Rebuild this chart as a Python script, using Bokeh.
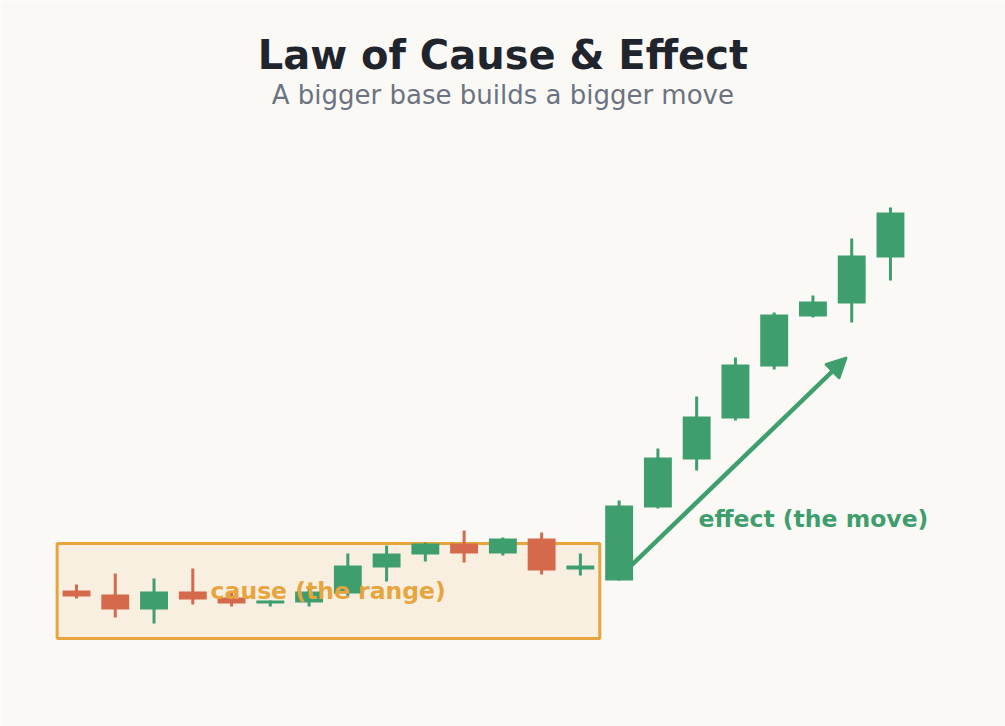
from bokeh.plotting import figure
from bokeh.models import Label, Arrow, NormalHead, ColumnDataSource, Range1d
from bokeh.embed import file_html
from bokeh.resources import INLINE

# candle data (price units)
opens  = [101.0, 100.6, 99.1, 100.9, 100.3, 99.7, 99.8, 100.7, 103.3, 104.6, 105.7,
          104.7, 106.2, 103.1, 102.0, 109.3, 114.1, 118.2, 123.4, 128.4, 129.7, 134.3]
closes = [100.4, 99.1, 100.9, 100.1, 99.7, 100.0, 100.9, 103.5, 104.7, 105.7, 104.7,
          106.2, 103.0, 103.5, 109.5, 114.3, 118.4, 123.6, 128.6, 129.9, 134.5, 138.8]
highs  = [101.6, 102.7, 102.2, 103.2, 100.8, 100.0, 101.2, 104.7, 105.5, 105.8, 107.0,
          106.3, 106.8, 104.7, 110.0, 115.2, 120.4, 124.3, 128.8, 130.5, 136.2, 139.3]
lows   = [100.2, 98.3, 97.7, 99.6, 99.4, 99.4, 99.4, 100.3, 101.9, 103.9, 103.8,
          104.5, 102.6, 102.5, 102.0, 109.2, 113.0, 118.0, 123.1, 128.3, 127.8, 132.0]

range_start, range_end = -0.5, 13.5
range_low, range_high = 96.2, 105.7
arrow_from = (14.1, 102.7)
arrow_to = (19.87, 124.3)

GREEN = "#3f9e6d"
RED = "#d4694b"
ORANGE = "#e8a43d"
BG = "#faf9f5"

idx = list(range(len(opens)))
colors = [GREEN if c >= o else RED for o, c in zip(opens, closes)]
src = ColumnDataSource(dict(
    x=idx,
    top=[max(o, c) for o, c in zip(opens, closes)],
    bottom=[min(o, c) for o, c in zip(opens, closes)],
    high=highs, low=lows, color=colors,
))

p = figure(
    width=1005, height=726,
    x_range=Range1d(-1.961, 23.968), y_range=Range1d(87.4, 160.0),
    output_backend="svg", toolbar_location=None,
    min_border=0,
)
p.axis.visible = False
p.grid.visible = False
p.outline_line_color = None
p.background_fill_color = BG
p.border_fill_color = BG

# the range box (cause)
p.quad(left=[range_start], right=[range_end], bottom=[range_low], top=[range_high],
       fill_color="#f9efe1", line_color=ORANGE, line_width=3)

# candles
p.segment(x0="x", x1="x", y0="low", y1="high", line_color="color", line_width=3, source=src)
p.vbar(x="x", top="top", bottom="bottom", width=0.72, fill_color="color",
       line_color=None, source=src)

# arrow for the move
p.add_layout(Arrow(
    end=NormalHead(size=20, fill_color=GREEN, line_color=GREEN, line_width=2),
    x_start=arrow_from[0], y_start=arrow_from[1],
    x_end=arrow_to[0], y_end=arrow_to[1],
    line_color=GREEN, line_width=4.5,
))

font = "DejaVu Sans"
p.add_layout(Label(x=3.46, y=101.0, text="cause (the range)", text_font=font,
                   text_font_style="bold", text_font_size="23.5px", text_color=ORANGE,
                   text_baseline="middle"))
p.add_layout(Label(x=16.05, y=108.2, text="effect (the move)", text_font=font,
                   text_font_style="bold", text_font_size="23.5px", text_color=GREEN,
                   text_baseline="middle"))

p.add_layout(Label(x=11.0, y=154.6, text="Law of Cause & Effect", text_font=font,
                   text_font_style="bold", text_font_size="40px", text_color="#1f242d",
                   text_align="center", text_baseline="middle"))
p.add_layout(Label(x=11.0, y=150.6, text="A bigger base builds a bigger move", text_font=font,
                   text_font_size="26px", text_color="#6b7381",
                   text_align="center", text_baseline="middle"))

html = file_html(p, INLINE)
html = html.replace("<body>", '<body style="background:%s;margin:0">' % BG, 1)
open("out.html", "w").write(html)
